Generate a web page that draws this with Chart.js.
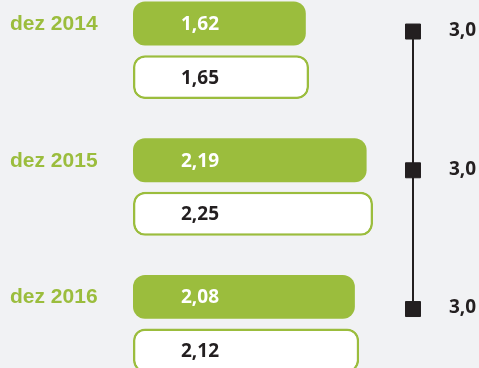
<!DOCTYPE html>
<html>
<head>
<meta charset="utf-8">
<script src="https://cdn.jsdelivr.net/npm/chart.js@4/dist/chart.umd.min.js"></script>
<style>
  html, body { margin: 0; padding: 0; background: #f1f2f4; overflow: hidden; width: 479px; height: 368px; }
  canvas { position: absolute; left: 0; top: -18px; }
</style>
</head>
<body>
<canvas id="bars" width="479" height="410"></canvas>
<canvas id="teto" width="479" height="410"></canvas>
<script>
const periods = ['dez 2014', 'dez 2015', 'dez 2016'];
const realizado = [1.62, 2.19, 2.08];
const projetado = [1.65, 2.25, 2.12];
const teto = [3.0, 3.0, 3.0];

const green = '#9bbd3d';
const dark = '#231f20';
const numFont = 'bold 19px "Open Sans", sans-serif';

const fmt = (v, d) => v.toFixed(d).replace('.', ',');

/* numbers inside the bars */
const barLabels = {
  id: 'barLabels',
  afterDatasetsDraw(chart) {
    const ctx = chart.ctx;
    ctx.save();
    ctx.textBaseline = 'middle';
    ctx.textAlign = 'left';
    ctx.font = numFont;
    chart.data.datasets.forEach((ds, i) => {
      chart.getDatasetMeta(i).data.forEach((el, j) => {
        ctx.fillStyle = i === 0 ? '#ffffff' : dark;
        ctx.fillText(fmt(ds.data[j], 2), el.base + 48, el.y + 1);
      });
    });
    ctx.restore();
  }
};

/* numbers next to the ceiling markers */
const tetoLabels = {
  id: 'tetoLabels',
  afterDatasetsDraw(chart) {
    const ctx = chart.ctx;
    ctx.save();
    ctx.textBaseline = 'middle';
    ctx.textAlign = 'left';
    ctx.font = numFont;
    ctx.fillStyle = dark;
    chart.getDatasetMeta(0).data.forEach((el, j) => {
      ctx.fillText(fmt(teto[j], 1), el.x + 36, el.y - 1);
    });
    ctx.restore();
  }
};

const barStyle = {
  borderRadius: 12,
  borderSkipped: false,
  barPercentage: 0.82,
  categoryPercentage: 0.784
};

new Chart(document.getElementById('bars'), {
  type: 'bar',
  plugins: [barLabels],
  data: {
    labels: periods,
    datasets: [
      { label: 'realizado', data: realizado, backgroundColor: green, borderWidth: 0, ...barStyle },
      { label: 'projetado', data: projetado, backgroundColor: '#ffffff', borderColor: green, borderWidth: 2.5, ...barStyle }
    ]
  },
  options: {
    indexAxis: 'y',
    responsive: false,
    animation: false,
    events: [],
    layout: { padding: { left: 10, right: 26, top: 0, bottom: 0 } },
    plugins: { legend: { display: false }, tooltip: { enabled: false } },
    scales: {
      x: { display: false, min: 0, max: 3 },
      y: {
        grid: { display: false },
        border: { display: false },
        ticks: {
          color: green,
          crossAlign: 'far',
          labelOffset: -26,
          padding: 0,
          font: { family: '"Liberation Sans", Arial, sans-serif', size: 21, weight: 'bold' }
        },
        afterFit(scale) {
          scale.width = 123;
          scale.paddingTop = 0;
          scale.paddingBottom = 0;
        }
      }
    }
  }
});

// ceiling line drawn as its own small chart laid over the bars
new Chart(document.getElementById('teto'), {
  type: 'line',
  plugins: [tetoLabels],
  data: {
    datasets: [{
      label: 'teto',
      data: teto.map((v, i) => ({ x: v, y: i })),
      borderColor: dark,
      borderWidth: 2,
      pointStyle: 'rect',
      pointRadius: 10.6,
      pointBorderWidth: 1,
      pointBackgroundColor: dark,
      pointBorderColor: dark,
      clip: false
    }]
  },
  options: {
    indexAxis: 'y',
    responsive: false,
    animation: false,
    events: [],
    layout: { autoPadding: false, padding: { left: 133, right: 66, top: 0, bottom: 0 } },
    plugins: { legend: { display: false }, tooltip: { enabled: false } },
    scales: {
      x: { type: 'linear', display: false, min: 0, max: 3 },
      y: { type: 'linear', display: false, reverse: true, min: -0.357, max: 2.598 }
    }
  }
});
</script>
</body>
</html>
